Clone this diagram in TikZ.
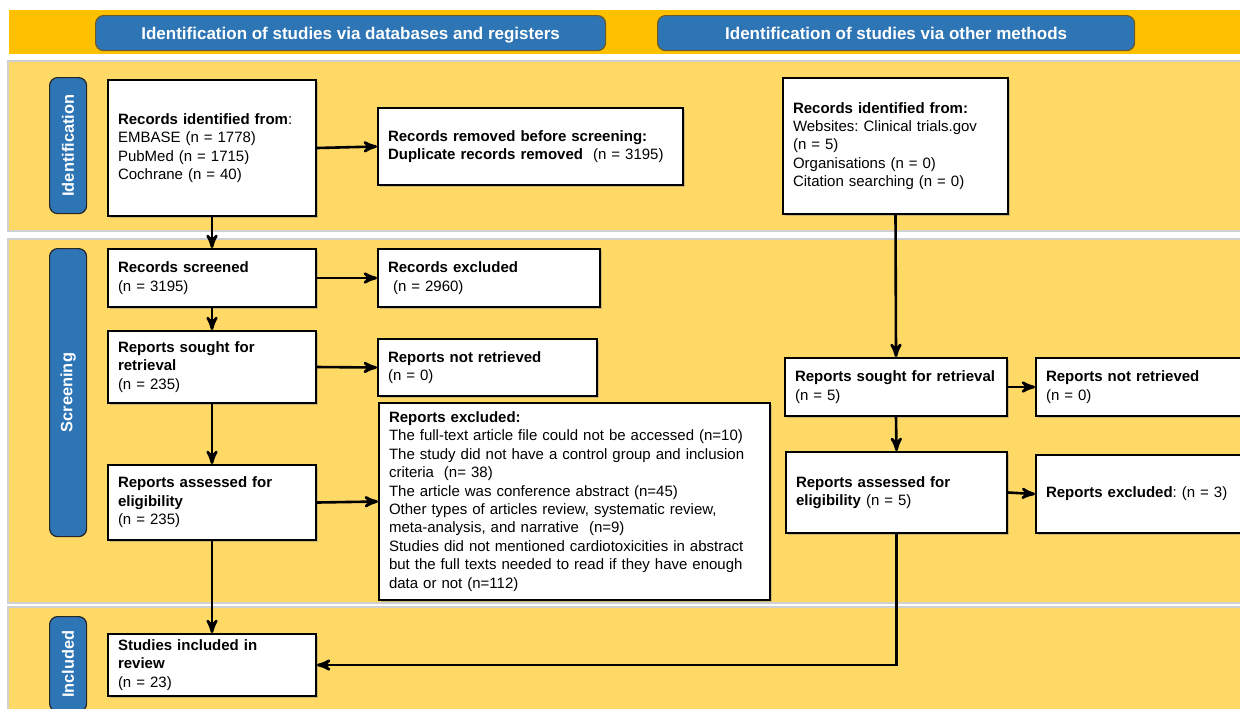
\documentclass[tikz,border=0pt]{standalone}
\usepackage{fontspec}
\setmainfont{Liberation Sans}
\frenchspacing
\usetikzlibrary{arrows}
\usetikzlibrary{shadows}
\definecolor{band}{HTML}{FFC000}
\definecolor{secfill}{HTML}{FFD966}
\definecolor{secline}{HTML}{D0D0D0}
\definecolor{hblue}{HTML}{2E75B6}
\definecolor{hline}{HTML}{6B5A2A}
\tikzset{>=stealth'}
\tikzset{box/.style={draw, line width=1pt, fill=white, anchor=north west, align=left, inner xsep=5pt, inner ysep=1pt, font=\fontsize{7.5}{9.2}\selectfont, drop shadow={shadow xshift=1.2pt, shadow yshift=-1.2pt, opacity=0.4}}}
\tikzset{head/.style={draw=hline, line width=0.6pt, fill=hblue, rounded corners=4pt, anchor=north west, text=white, font=\bfseries\fontsize{8.5}{10}\selectfont, minimum height=17.5pt, text height=1.6ex, text depth=0.3ex}}
\tikzset{side/.style={draw=black!85, line width=0.6pt, fill=hblue, rounded corners=4pt, anchor=north west, text=white, font=\bfseries\fontsize{8.2}{10}\selectfont, minimum width=18.5pt, inner sep=0pt}}
\tikzset{sec/.style={fill=secfill, draw=secline, line width=0.8pt}}
\tikzset{arr/.style={->, line width=1.3pt}}

\begin{document}
\begin{tikzpicture}[x=0.5pt, y=-0.5pt]
\useasboundingbox (0,0) rectangle (1240,708);
\clip (0,0) rectangle (1240,708);

\fill[band] (9,10) rectangle (1250,54);
\path[sec] (8,61) rectangle (1250,231);
\path[sec] (8,239) rectangle (1250,603);
\path[sec] (8,607) rectangle (1250,720);

\node[head, minimum width=255pt] (hdb) at (95,15) {Identification of studies via databases and registers};
\node[head, minimum width=238.5pt] (hot) at (657,15) {Identification of studies via other methods};

\node[side, minimum height=68pt] (sid) at (49,77) {\rotatebox{90}{Identification}};
\node[side, minimum height=144pt] (sscr) at (49,248) {\rotatebox{90}{Screening}};
\node[side, minimum height=47.5pt] (sinc) at (49,616) {\rotatebox{90}{Included}};

\node[box, text width=94pt, minimum height=68pt] (id) at (107,79) {\textbf{Records identified from}:\\EMBASE (n = 1778)\\PubMed (n = 1715)\\Cochrane (n = 40)};
\node[box, text width=142.5pt, minimum height=38.5pt] (rem) at (377,107) {\textbf{Records removed before screening:}\\\textbf{Duplicate records removed}\ \ (n = 3195)};
\node[box, text width=102.5pt, minimum height=68pt] (oid) at (782,77) {\textbf{Records identified from:}\\Websites: Clinical trials.gov\\(n = 5)\\Organisations (n = 0)\\Citation searching (n = 0)};

\node[box, text width=94pt, minimum height=29pt] (scr) at (107,248) {\textbf{Records screened}\\(n = 3195)};
\node[box, text width=101pt, minimum height=29pt] (exc) at (377,248) {\textbf{Records excluded}\\\hspace*{2.5pt}(n = 2960)};
\node[box, text width=94pt, minimum height=36pt] (sgt) at (107,330) {\textbf{Reports sought for}\\\textbf{retrieval}\\(n = 235)};
\node[box, text width=99.5pt, minimum height=28.5pt] (nrt) at (377,338) {\textbf{Reports not retrieved}\\(n = 0)};
\node[box, text width=185.5pt, minimum height=98.5pt] (rex) at (378,402) {\textbf{Reports excluded:}\\The full-text article file could not be accessed (n=10)\\The study did not have a control group and inclusion\\criteria\ \ (n= 38)\\The article was conference abstract (n=45)\\Other types of articles review, systematic review,\\meta-analysis, and narrative\ \ (n=9)\\Studies did not mentioned cardiotoxicities in abstract\\but the full texts needed to read if they have enough\\data or not (n=112)};
\node[box, text width=94pt, minimum height=37.5pt] (asd) at (107,464) {\textbf{Reports assessed for}\\\textbf{eligibility}\\(n = 235)};
\node[box, text width=94pt, minimum height=31pt] (inc) at (107,633) {\textbf{Studies included in}\\\textbf{review}\\(n = 23)};

\node[box, text width=101pt, minimum height=29pt] (osg) at (784,357) {\textbf{Reports sought for retrieval}\\(n = 5)};
\node[box, text width=100pt, minimum height=29pt] (ont) at (1035,357) {\textbf{Reports not retrieved}\\(n = 0)};
\node[box, text width=100.5pt, minimum height=40.5pt] (oas) at (785,451) {\textbf{Reports assessed for}\\\textbf{eligibility} (n = 5)};
\node[box, text width=100pt, minimum height=39pt] (oex) at (1035,454) {\textbf{Reports excluded}: (n = 3)};

\draw[arr] (id.south) -- (scr.north);
\draw[arr] (id.east) -- (rem.west);
\draw[arr] (scr.east) -- (exc.west);
\draw[arr] (scr.south) -- (sgt.north);
\draw[arr] (sgt.east) -- (nrt.west);
\draw[arr] (sgt.south) -- (asd.north);
\draw[arr] (asd.east) -- (rex.west);
\draw[arr] (asd.south) -- (inc.north);

\draw[arr] (oid.south) -- (osg.north);
\draw[arr] (osg.east) -- (ont.west);
\draw[arr] (osg.south) -- (oas.north);
\draw[arr] (oas.east) -- (oex.west);
\draw[arr] (oas.south) |- (inc.east);
\end{tikzpicture}
\end{document}
